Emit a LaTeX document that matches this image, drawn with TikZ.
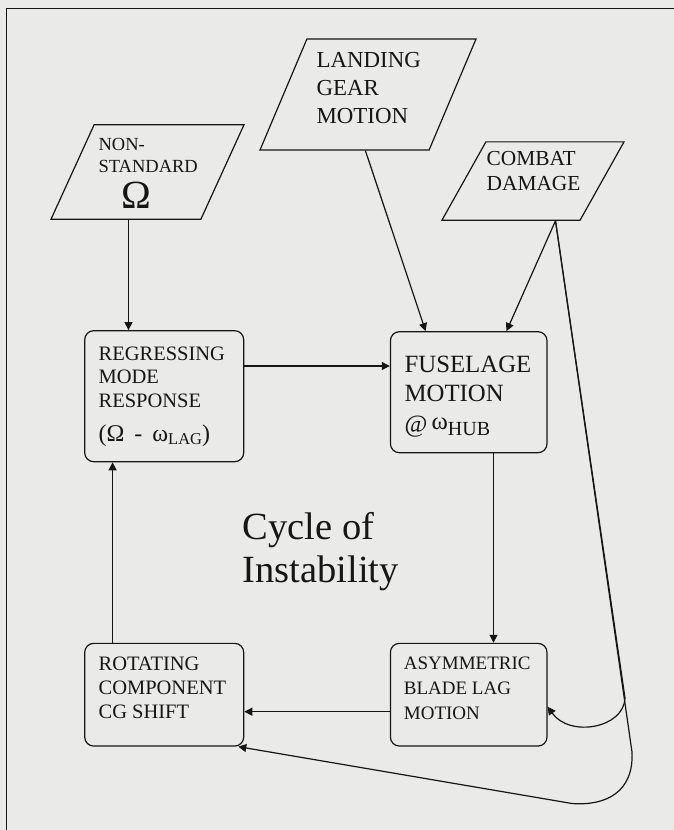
\documentclass[tikz,border=0pt]{standalone}
\usepackage{fontspec}
\setmainfont{Liberation Serif}
\usetikzlibrary{shapes.geometric, arrows.meta}
\definecolor{paper}{RGB}{234,234,232}
\definecolor{ink}{RGB}{22,22,22}
\newcommand{\fsz}[2]{\fontsize{#1pt}{#2pt}\selectfont}
\newcommand{\lowsub}[1]{\raisebox{-3pt}{\fsz{16.5}{16.5}#1}}

\begin{document}
\begin{tikzpicture}[x=1pt, y=-1pt, line width=1.2pt, color=ink,
  inbox/.style={trapezium, draw, trapezium stretches=true, inner sep=1pt},
  stepbox/.style={draw, rounded corners=9pt, inner sep=0pt},
  txt/.style={anchor=north west, inner sep=0pt, align=left},
  arr/.style={-{Triangle[length=8pt,width=8pt]}}]
  \useasboundingbox (0,0) rectangle (674,830);
  \fill[paper] (0,0) rectangle (674,830);
  \draw[line width=0.9pt] (674,8) -- (6.5,8) -- (6.5,830); % cornice

  % ingressi
  \node[inbox, trapezium left angle=68, trapezium right angle=112, minimum width=193pt, minimum height=94.5pt] (nonstd) at (147.5,172) {};
  \node[inbox, trapezium left angle=69, trapezium right angle=111, minimum width=216pt, minimum height=111pt] (landing) at (368,94.5) {};
  \node[inbox, trapezium left angle=65, trapezium right angle=115, minimum width=182pt, minimum height=78.3pt] (combat) at (533,181) {};
  \node[txt, font=\fsz{18.5}{21.7}] (nonstdtxt) at (98,137.8) {NON-\\STANDARD};
  \node[anchor=base, inner sep=0pt, font=\fsz{40}{40}] (nonstdsym) at (136.5,208) {Ω};
  \node[txt, font=\fsz{22.9}{28.3}] (landingtxt) at (316,51.6) {LANDING\\GEAR\\MOTION};
  \node[txt, font=\fsz{21.4}{25}] (combattxt) at (486,150.9) {COMBAT\\DAMAGE};

  % ciclo
  \node[stepbox, minimum width=159pt, minimum height=131pt] (regress) at (164.2,396.2) {};
  \node[stepbox, minimum width=156.6pt, minimum height=121pt] (fuselage) at (468.7,392.2) {};
  \node[stepbox, minimum width=159pt, minimum height=102.7pt] (rotating) at (164.2,694.7) {};
  \node[stepbox, minimum width=156.6pt, minimum height=102.7pt] (blade) at (468.7,694.7) {};
  \node[txt, font=\fsz{20.5}{23.3}] (regresstxt) at (98,346.5) {REGRESSING\\MODE\\RESPONSE};
  \node[anchor=base west, inner sep=0pt, font=\fsz{24}{24}] (regressfrm) at (98,441.7) {(Ω\hspace{10pt}-\hspace{10pt}ω\lowsub{LAG})};
  \node[txt, font=\fsz{24.8}{29}] (fuselagetxt) at (404,355.3) {FUSELAGE\\MOTION};
  \node[anchor=base west, inner sep=0pt, font=\fsz{24.8}{29}] (fuselagefrm) at (404,432) {@\,\raisebox{3pt}{ω}\raisebox{-3pt}{\fsz{20}{20}HUB}};
  \node[txt, font=\fsz{20.5}{24}] (rotatingtxt) at (98,656.5) {ROTATING\\COMPONENT\\CG SHIFT};
  \node[txt, font=\fsz{19}{25}] (bladetxt) at (403.3,656.8) {ASYMMETRIC\\BLADE LAG\\MOTION};
  \node[txt, font=\fsz{38.5}{42.4}] (cycle) at (242,512) {Cycle of\\Instability};

  % punti di uscita
  \coordinate (nsout) at ([xshift=-19pt]nonstd.south);
  \coordinate (cbout) at ([xshift=22.5pt]combat.south);
  \coordinate (rgout) at ([yshift=30.2pt]regress.east);
  \coordinate (fsout) at ([xshift=24.8pt]fuselage.south);
  \coordinate (bdout) at ([yshift=-17pt]blade.west);
  \coordinate (rtout) at ([xshift=-51.6pt]rotating.north);

  \draw[arr] (nsout) -- (nsout |- regress.north);
  \draw[arr] ([xshift=-2.6pt]landing.south) -- ([xshift=-43.1pt]fuselage.north);
  \draw[arr] (cbout) -- ([xshift=37.8pt]fuselage.north);
  \draw[arr] (rgout) -- (rgout -| fuselage.west);
  \draw[arr] (fsout) -- (fsout |- blade.north);
  \draw[arr] (bdout) -- (bdout -| rotating.east);
  \draw[arr] (rtout) -- (rtout |- regress.south);
  % danni: ritorno sulle pale e sul baricentro
  \draw[arr] (cbout) -- (625,698) .. controls (624,728) and (570,738) .. ([yshift=-12pt]blade.east);
  \draw[arr] (cbout) -- (632,752) .. controls (634,792) and (606,806) .. (572,803.5) -- ([xshift=-6pt]rotating.south east);
\end{tikzpicture}
\end{document}
